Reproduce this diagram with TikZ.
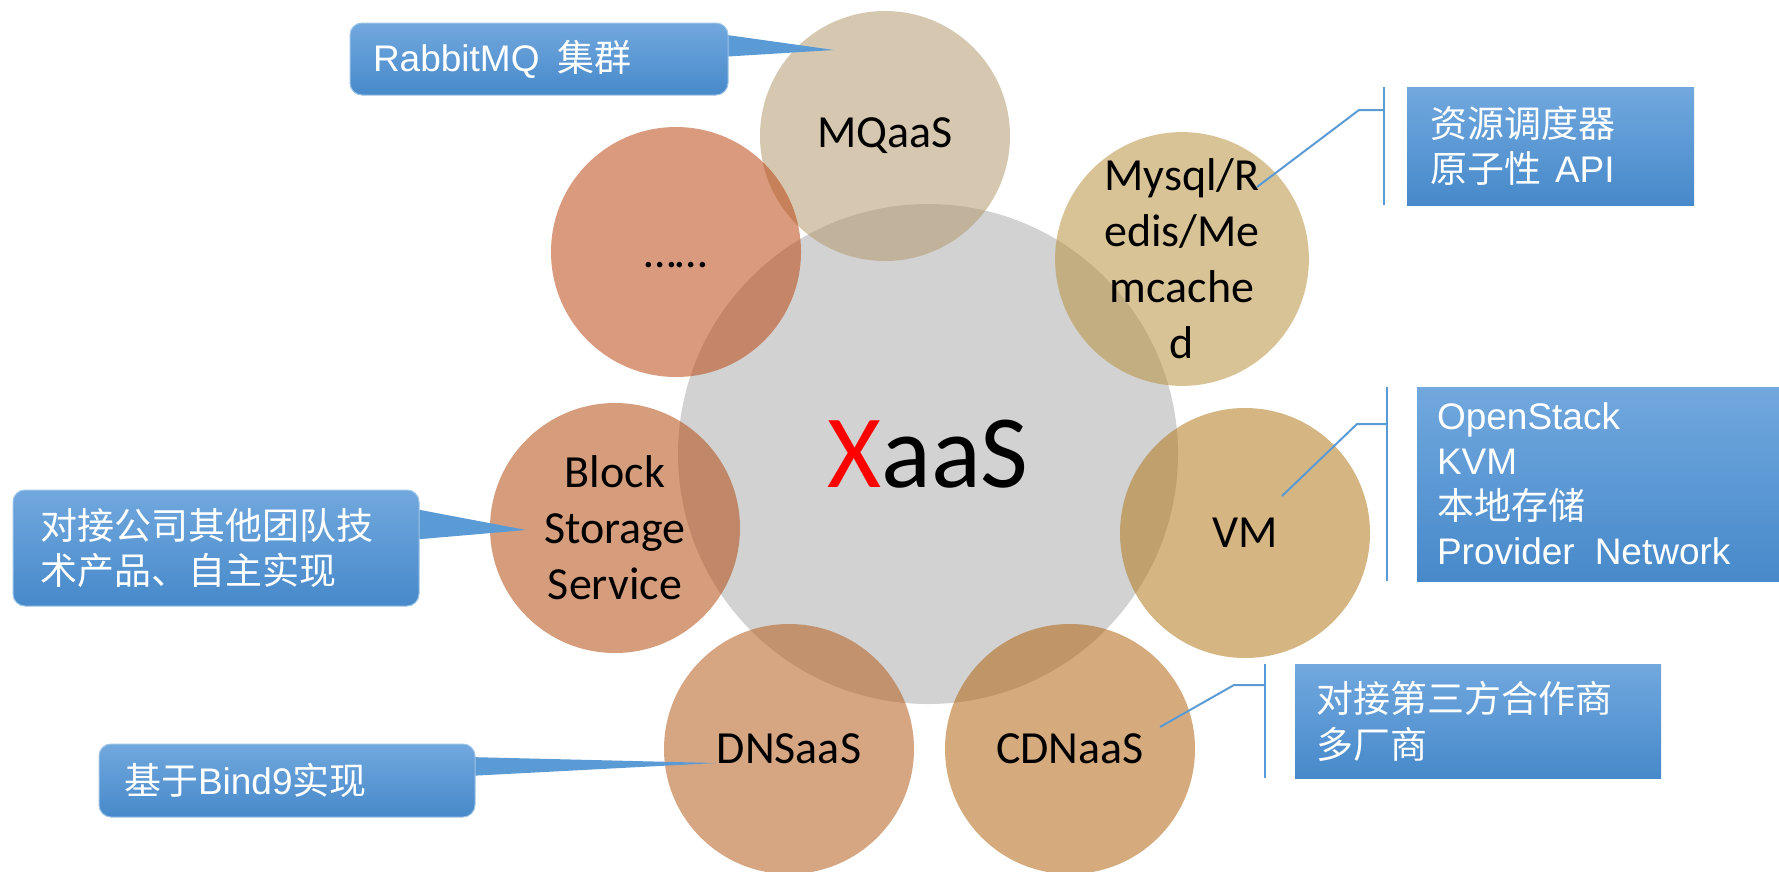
\documentclass[tikz,border=0pt]{standalone}
\usepackage{fontspec}
\setmainfont{Carlito}
\newfontfamily\cjkf{Noto Sans CJK SC}
\newfontfamily\arialf{Liberation Sans}
\newcommand{\latn}[1]{{\arialf #1}}
\definecolor{cgray}{HTML}{D2D2D2}
\definecolor{cmq}{RGB}{180,155,111}
\definecolor{cdots}{RGB}{188,71,20}
\definecolor{cmysql}{RGB}{184,146,64}
\definecolor{cvm}{RGB}{178,120,27}
\definecolor{ccdn}{RGB}{178,100,17}
\definecolor{cdns}{RGB}{181,93,28}
\definecolor{cblock}{RGB}{178,77,17}
\definecolor{btop}{HTML}{71A8DE}
\definecolor{bbot}{HTML}{4789CA}
\definecolor{bmid}{HTML}{5B9BD5}
\definecolor{bline}{HTML}{5B9BD5}
\begin{document}
\begin{tikzpicture}[x=1pt,y=-1pt,
  bubble/.style={circle,inner sep=0pt,minimum size=250pt,fill opacity=0.55,text opacity=1,align=center,font=\fontsize{46}{56}\selectfont},
  callbox/.style={rectangle,rounded corners=12pt,top color=btop,bottom color=bbot,draw=bmid!60!white,line width=1pt,text=white,align=left,inner ysep=0pt},
  infobox/.style={rectangle,top color=btop,bottom color=bbot,text=white,align=left,inner ysep=0pt},
  pointer/.style={fill=bmid},
  leader/.style={draw=bline,line width=2pt}]
\useasboundingbox (0,0) rectangle (1779,871);
% central circle
\node[circle,fill=cgray,minimum size=500pt,inner sep=0pt,font=\fontsize{104}{110}\selectfont] (xaas) at (928,454) {\textcolor{red}{X}aaS};
% outer circles
\node[bubble,fill=cmq] (mq) at (885,136) {MQaaS};
\node[bubble,fill=cmysql] (mysql) at (1182,259) {Mysql/R\\edis/Me\\mcache\\d};
\node[bubble,fill=cvm] (vm) at (1245,533) {VM};
\node[bubble,fill=ccdn] (cdn) at (1070,749) {CDNaaS};
\node[bubble,fill=cdns] (dns) at (789,749) {DNSaaS};
\node[bubble,fill=cblock] (block) at (615,528) {Block\\Storage\\Service};
\node[bubble,fill=cdots,text height=30pt,text depth=0pt] (dots) at (676,252) {……};
% leader lines to info boxes
\coordinate (b1t) at (1384,87);  \coordinate (b1b) at (1384,205);
\coordinate (m1a) at (1257,187); \coordinate (m1b) at (1359,110); \coordinate (m1c) at (1384,110);
\coordinate (b2t) at (1387,387); \coordinate (b2b) at (1387,581);
\coordinate (m2a) at (1282,496); \coordinate (m2b) at (1357,424); \coordinate (m2c) at (1387,424);
\coordinate (b3t) at (1265,664); \coordinate (b3b) at (1265,778);
\coordinate (m3a) at (1160,727); \coordinate (m3b) at (1234,685); \coordinate (m3c) at (1265,685);
\draw[leader] (b1t) -- (b1b);
\draw[leader] (m1a) -- (m1b) -- (m1c);
\draw[leader] (b2t) -- (b2b);
\draw[leader] (m2a) -- (m2b) -- (m2c);
\draw[leader] (b3t) -- (b3b);
\draw[leader] (m3a) -- (m3b) -- (m3c);
% info boxes
\node[infobox,minimum width=287pt,minimum height=118pt,inner xsep=23pt,text width=241pt,font=\cjkf\fontsize{37}{45}\selectfont] (sched) at (1550.5,146) {资源调度器\\原子性\hspace{14pt}\latn{API}};
\node[infobox,minimum width=362pt,minimum height=194pt,inner xsep=20pt,text width=322pt,font=\cjkf\fontsize{37}{45}\selectfont] (vminfo) at (1598,484) {\latn{OpenStack}\\\latn{KVM}\\本地存储\\\latn{Provider\hspace{20pt}Network}};
\node[infobox,minimum width=366pt,minimum height=114pt,inner xsep=21pt,text width=324pt,font=\cjkf\fontsize{37}{46}\selectfont] (cdninfo) at (1478,721) {对接第三方合作商\\多厂商};
% callouts
\coordinate (p1a) at (720,34); \coordinate (p1t) at (834,50); \coordinate (p1b) at (720,57);
\coordinate (p2a) at (410,508); \coordinate (p2t) at (526,530); \coordinate (p2b) at (410,540);
\coordinate (p3a) at (468,757); \coordinate (p3t) at (716,763); \coordinate (p3b) at (468,776);
\fill[pointer] (p1a) -- (p1t) -- (p1b) -- cycle;
\fill[pointer] (p2a) -- (p2t) -- (p2b) -- cycle;
\fill[pointer] (p3a) -- (p3t) -- (p3b) -- cycle;
\node[callbox,minimum width=378pt,minimum height=72pt,inner xsep=23pt,text width=332pt,font=\cjkf\fontsize{37}{45}\selectfont] (rabbit) at (539,59) {\latn{RabbitMQ}\hspace{18pt}集群};
\node[callbox,minimum width=406pt,minimum height=116pt,inner xsep=27pt,text width=352pt,font=\cjkf\fontsize{37}{45}\selectfont] (team) at (216,548) {对接公司其他团队技\\术产品、自主实现};
\node[callbox,minimum width=376pt,minimum height=73pt,inner xsep=25pt,text width=326pt,font=\cjkf\fontsize{37}{45}\selectfont] (bind) at (287,780.5) {基于\latn{Bind9}实现};
\end{tikzpicture}
\end{document}
